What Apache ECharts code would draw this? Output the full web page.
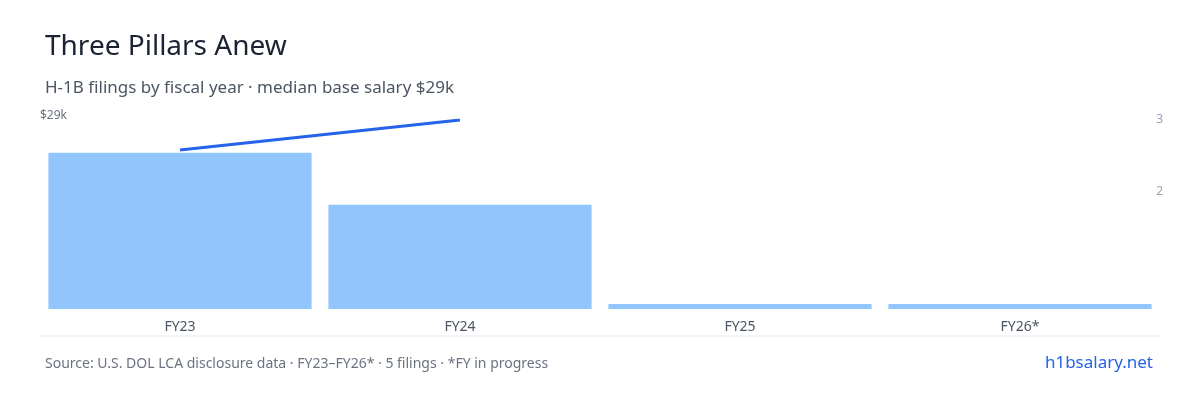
<!DOCTYPE html>
<html><head><meta charset="utf-8">
<script src="https://cdn.jsdelivr.net/npm/echarts@6/dist/echarts.min.js"></script>
<style>html,body{margin:0;padding:0;background:#fff}#c{width:1200px;height:400px}</style>
</head><body><div id="c"></div>
<script>
const categories = ['FY23','FY24','FY25','FY26*'];
const filings = [3, 2, 0, 0];
const salaryK = [24.4, 29, null, null];
const rightTicks = [2, 3];
const leftTicks = [29];
const F = 'Noto Sans';
const chart = echarts.init(document.getElementById('c'));
chart.setOption({
  animation: false,
  textStyle: {fontFamily: F},
  title: [
    {text: 'Three Pillars Anew', left: 40, top: 28, textStyle: {fontFamily: F, fontSize: 28, fontWeight: 'normal', color: '#1a2233'}},
    {text: 'H-1B filings by fiscal year · median base salary $29k', left: 40, top: 75, textStyle: {fontFamily: F, fontSize: 17, fontWeight: 'normal', color: '#4b5563'}},
    {text: 'Source: U.S. DOL LCA disclosure data · FY23–FY26* · 5 filings · *FY in progress', left: 40, top: 352, textStyle: {fontFamily: F, fontSize: 14, fontWeight: 'normal', color: '#6b7280'}},
    {text: 'h1bsalary.net', right: 42, top: 350, textStyle: {fontFamily: F, fontSize: 17, fontWeight: 'normal', color: '#2563eb'}}
  ],
  graphic: [{type: 'line', shape: {x1: 40, y1: 336, x2: 1160, y2: 336}, style: {stroke: '#e2e8f0', lineWidth: 1}}],
  grid: {left: 40, right: 40, top: 120, bottom: 91},
  xAxis: {type: 'category', data: categories, axisLine: {show: false}, axisTick: {show: false},
    axisLabel: {color: '#4b5563', fontSize: 14, margin: 11}},
  yAxis: [
    {type: 'value', min: 0, max: 29, position: 'left', splitLine: {show: false},
      axisLabel: {customValues: leftTicks, formatter: v => '$' + v + 'k', color: '#6b7280', fontSize: 12, inside: true, margin: 0, verticalAlign: 'bottom', padding: [0,0,-2,0]}},
    {type: 'value', min: 0.375, max: 3, position: 'right', splitLine: {show: false},
      axisLabel: {customValues: rightTicks, color: '#94a3b8', fontSize: 12, margin: 3, align: 'right', padding: [0,0,0,0]}},
    {type: 'value', min: 0, max: 3.63, show: false}
  ],
  series: [
    {type: 'bar', yAxisIndex: 2, data: filings, barCategoryGap: '6%', barMinHeight: 5, itemStyle: {color: '#93c5fd'}},
    {type: 'line', yAxisIndex: 0, data: salaryK, showSymbol: false, lineStyle: {color: '#2563eb', width: 3}}
  ]
});
</script></body></html>
